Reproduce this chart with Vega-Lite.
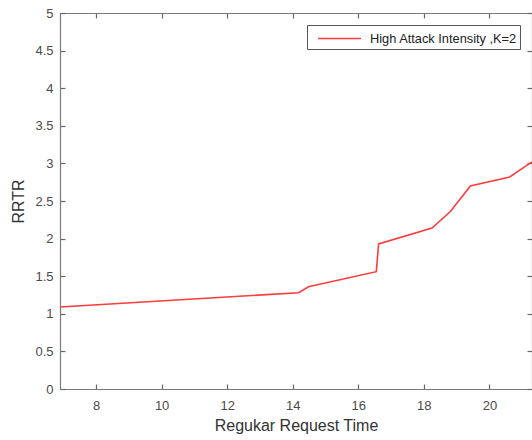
{
  "$schema": "https://vega.github.io/schema/vega-lite/v6.json",
  "width": 472,
  "height": 376,
  "autosize": "none",
  "padding": {"left": 60, "top": 13, "right": 0, "bottom": 51},
  "background": "white",
  "config": {
    "view": {"stroke": null},
    "font": "Liberation Sans",
    "axis": {
      "grid": false,
      "domainColor": "#7a7a7a",
      "domainWidth": 1.2,
      "tickColor": "#666666",
      "tickWidth": 1.2,
      "labelColor": "#4a4a4a",
      "labelFont": "Liberation Sans",
      "labelFontSize": 13,
      "titleFont": "Liberation Sans",
      "titleFontSize": 16,
      "titleFontWeight": "normal",
      "titleColor": "#333333"
    }
  },
  "data": {
    "values": [
      {"t": 6.9, "rrtr": 1.09, "series": "High Attack Intensity ,K=2"},
      {"t": 14.18, "rrtr": 1.28, "series": "High Attack Intensity ,K=2"},
      {"t": 14.48, "rrtr": 1.36, "series": "High Attack Intensity ,K=2"},
      {"t": 16.55, "rrtr": 1.56, "series": "High Attack Intensity ,K=2"},
      {"t": 16.62, "rrtr": 1.93, "series": "High Attack Intensity ,K=2"},
      {"t": 18.25, "rrtr": 2.14, "series": "High Attack Intensity ,K=2"},
      {"t": 18.81, "rrtr": 2.36, "series": "High Attack Intensity ,K=2"},
      {"t": 19.42, "rrtr": 2.7, "series": "High Attack Intensity ,K=2"},
      {"t": 20.62, "rrtr": 2.82, "series": "High Attack Intensity ,K=2"},
      {"t": 21.3, "rrtr": 3.02, "series": "High Attack Intensity ,K=2"}
    ]
  },
  "layer": [
    {
      "mark": {"type": "line", "strokeWidth": 1.6, "clip": true},
      "encoding": {
        "x": {
          "field": "t", "type": "quantitative",
          "scale": {"domain": [6.9, 21.3], "nice": false, "zero": false},
          "axis": {"orient": "bottom", "title": "Regukar Request Time", "values": [8, 10, 12, 14, 16, 18, 20], "tickSize": -5, "labelPadding": 15, "titlePadding": 5}
        },
        "y": {
          "field": "rrtr", "type": "quantitative",
          "scale": {"domain": [0, 5], "nice": false},
          "axis": {"orient": "left", "title": "RRTR", "values": [0, 0.5, 1, 1.5, 2, 2.5, 3, 3.5, 4, 4.5, 5], "format": "~g", "tickSize": -5, "labelPadding": 12, "titlePadding": 8}
        },
        "color": {
          "field": "series", "type": "nominal",
          "scale": {"range": ["#ff3b3b"]},
          "legend": {
            "title": null,
            "orient": "top-right",
            "offset": 12,
            "fillColor": "white",
            "strokeColor": "#555555",
            "padding": 3,
            "labelFont": "Liberation Sans",
            "labelFontSize": 12.8,
            "labelColor": "#222222",
            "symbolType": "M-0.263,0H4.263",
            "symbolSize": 361,
            "symbolStrokeWidth": 1.5,
            "labelOffset": 39
          }
        }
      }
    },
    {
      "mark": {"type": "point", "opacity": 0},
      "encoding": {
        "x": {
          "field": "t", "type": "quantitative",
          "axis": {"orient": "top", "title": null, "labels": false, "values": [8, 10, 12, 14, 16, 18, 20], "tickSize": -5}
        },
        "y": {
          "field": "rrtr", "type": "quantitative",
          "axis": {"orient": "right", "title": null, "labels": false, "values": [0, 0.5, 1, 1.5, 2, 2.5, 3, 3.5, 4, 4.5, 5], "tickSize": -5}
        }
      }
    }
  ],
  "resolve": {"axis": {"x": "independent", "y": "independent"}}
}
